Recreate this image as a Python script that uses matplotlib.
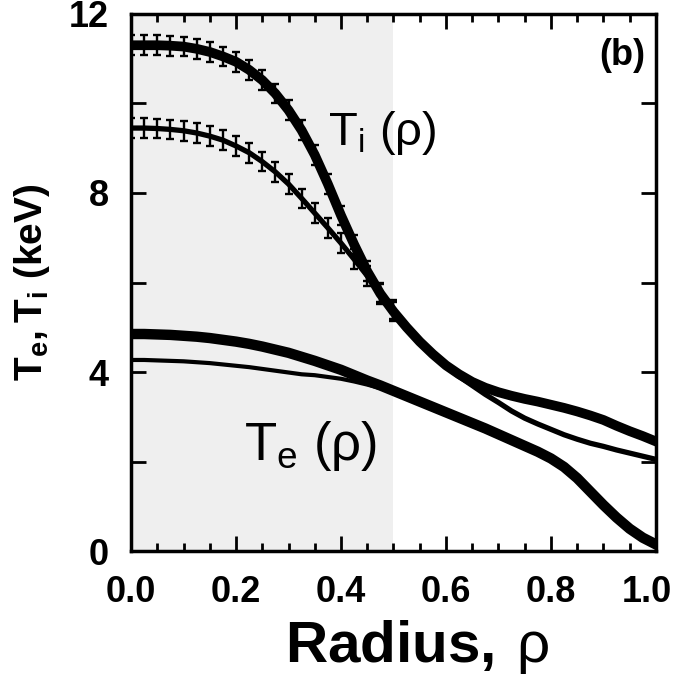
import matplotlib
matplotlib.use('Agg')
import matplotlib.pyplot as plt
from matplotlib.ticker import MultipleLocator, FuncFormatter
from matplotlib.transforms import ScaledTranslation

# radius grid and profiles (keV)
rho = [0.0, 0.025, 0.05, 0.075, 0.1, 0.125, 0.15, 0.175, 0.2, 0.225,
       0.25, 0.275, 0.3, 0.325, 0.35, 0.375, 0.4, 0.425, 0.45, 0.475,
       0.5, 0.525, 0.55, 0.575, 0.6, 0.625, 0.65, 0.675, 0.7, 0.725,
       0.75, 0.775, 0.8, 0.825, 0.85, 0.875, 0.9, 0.925, 0.95, 0.975, 1.0]

ti_high = [11.30, 11.30, 11.30, 11.29, 11.27, 11.22, 11.15, 11.05, 10.93, 10.75,
           10.52, 10.22, 9.85, 9.40, 8.85, 8.20, 7.50, 6.85, 6.25, 5.75,
           5.35, 5.00, 4.68, 4.40, 4.15, 3.95, 3.78, 3.65, 3.55, 3.47,
           3.40, 3.34, 3.27, 3.20, 3.12, 3.03, 2.93, 2.80, 2.68, 2.57, 2.45]

ti_low = [9.45, 9.45, 9.44, 9.42, 9.39, 9.34, 9.27, 9.18, 9.05, 8.90,
          8.70, 8.47, 8.20, 7.88, 7.55, 7.22, 6.88, 6.52, 6.15, 5.78,
          5.40, 5.03, 4.70, 4.40, 4.13, 3.90, 3.70, 3.50, 3.32, 3.13,
          2.97, 2.84, 2.72, 2.60, 2.50, 2.41, 2.34, 2.26, 2.19, 2.12, 2.05]

te_high = [4.85, 4.85, 4.84, 4.83, 4.81, 4.79, 4.76, 4.72, 4.68, 4.63,
           4.57, 4.50, 4.43, 4.34, 4.25, 4.15, 4.05, 3.93, 3.81, 3.70,
           3.58, 3.46, 3.34, 3.22, 3.10, 2.98, 2.86, 2.74, 2.61, 2.48,
           2.35, 2.22, 2.07, 1.88, 1.63, 1.33, 1.03, 0.75, 0.50, 0.30, 0.15]

te_low = [4.27, 4.27, 4.26, 4.25, 4.24, 4.22, 4.20, 4.17, 4.14, 4.11,
          4.07, 4.03, 3.99, 3.95, 3.93, 3.89, 3.85, 3.79, 3.72, 3.64,
          3.56, 3.45, 3.33, 3.21, 3.09, 2.97, 2.85, 2.73, 2.60, 2.47,
          2.34, 2.21, 2.05, 1.85, 1.58, 1.28, 0.98, 0.72, 0.48, 0.30, 0.16]

ti_err = 0.22
err_shown = [r <= 0.5 for r in rho]

plt.rcParams['font.family'] = ['Liberation Sans', 'DejaVu Sans']
plt.rcParams['mathtext.fontset'] = 'custom'
plt.rcParams['mathtext.rm'] = 'Liberation Sans'
plt.rcParams['mathtext.bf'] = 'Liberation Sans:bold'

fig = plt.figure(figsize=(6.79, 6.95), dpi=100)
ax = fig.add_axes([0.193, 0.207, 0.773, 0.773])

ax.axvspan(0, 0.5, color='#efefef', lw=0, zorder=0)

ax.errorbar(rho, ti_high, yerr=ti_err, errorevery=err_shown, color='black', lw=7,
            elinewidth=1.7, capsize=3, capthick=1.7, zorder=3)
ax.errorbar(rho, ti_low, yerr=ti_err, errorevery=err_shown, color='black', lw=3.8,
            elinewidth=1.7, capsize=3, capthick=1.7, zorder=3)
ax.plot(rho, te_high, color='black', lw=7.5, zorder=3)
ax.plot(rho, te_low, color='black', lw=3, zorder=3)

ax.set_xlim(0, 1.0)
ax.set_ylim(0, 12)

ax.xaxis.set_major_locator(MultipleLocator(0.2))
ax.xaxis.set_minor_locator(MultipleLocator(0.05))
ax.yaxis.set_major_locator(MultipleLocator(2))
ax.yaxis.set_major_formatter(FuncFormatter(lambda v, p: '%d' % v if v % 4 == 0 else ''))
ax.xaxis.set_major_formatter(FuncFormatter(lambda v, p: '%.1f' % v))

ax.tick_params(which='both', direction='in', top=True, right=True, width=2)
ax.tick_params(which='major', length=11)
ax.tick_params(which='minor', length=6)
ax.tick_params(axis='x', which='major', pad=17)
ax.tick_params(axis='y', which='major', pad=16)
for lab in ax.get_xticklabels() + ax.get_yticklabels():
    lab.set_fontsize(26)
    lab.set_fontweight('bold')
for s in ax.spines.values():
    s.set_linewidth(2.5)

ax.set_xlabel(r'$\mathbf{Radius,}\,\mathrm{ρ}$', fontsize=42)
ax.xaxis.set_label_coords(0.545, -0.125)
ax.set_ylabel(r'$\mathbf{T_e, T_i}$ $\mathbf{(keV)}$', fontsize=28, labelpad=12)

ax.text(0.375, 9.35, r'$\mathrm{T_i}$ (ρ)', fontsize=34, ha='left', va='center')
ax.text(0.215, 2.35, r'$\mathrm{T_e}$ (ρ)', fontsize=38, ha='left', va='center')
ax.text(0.979, 11.06, '(b)', fontsize=26, fontweight='bold', ha='right', va='center')

# the "1.0" label sits a bit left of its tick in the original
fig.canvas.draw()
for tick in ax.xaxis.get_major_ticks():
    if tick.label1.get_text() == '1.0':
        tick.label1.set_transform(tick.label1.get_transform()
                                  + ScaledTranslation(-0.09, 0, fig.dpi_scale_trans))

plt.savefig('out.png', dpi=100)
plt.close()
